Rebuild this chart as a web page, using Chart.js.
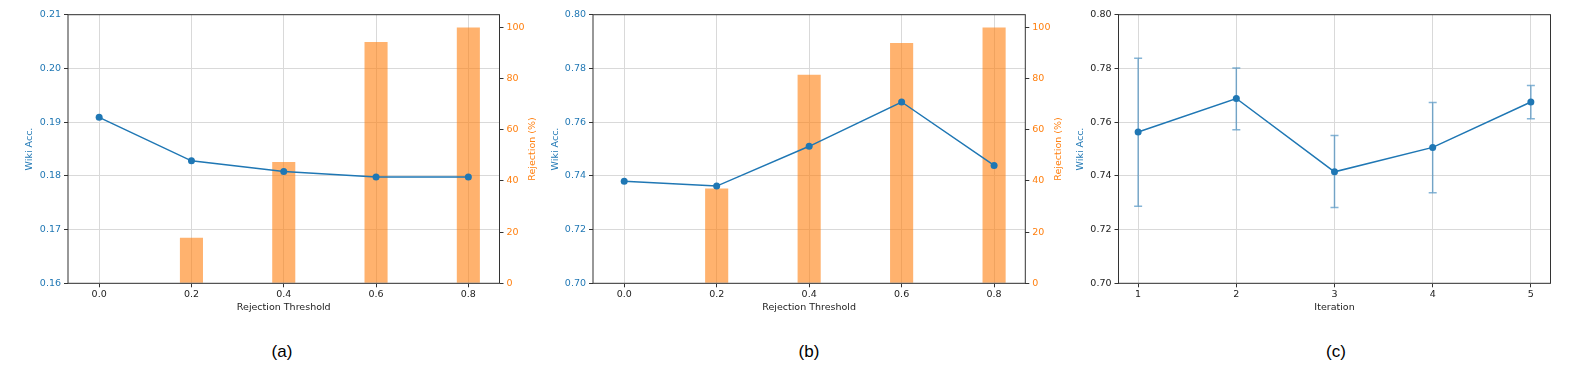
<!DOCTYPE html>
<html>
<head>
<meta charset="utf-8">
<script src="https://cdn.jsdelivr.net/npm/chart.js@4.4.0/dist/chart.umd.min.js"></script>
<style>
  html, body { margin: 0; padding: 0; background: #fff; }
  body { width: 1578px; height: 367px; position: relative; overflow: hidden; }
  .panel { position: absolute; top: 0; }
  .cap { position: absolute; top: 342px; width: 80px; margin-left: -40px; text-align: center;
         font: 17px 'Liberation Sans', Arial, sans-serif; line-height: 20px; color: #000; }
</style>
</head>
<body>
<canvas class="panel" id="chartA" width="545" height="320" style="left:0"></canvas>
<canvas class="panel" id="chartB" width="527" height="320" style="left:545px"></canvas>
<canvas class="panel" id="chartC" width="506" height="320" style="left:1072px"></canvas>
<div class="cap" id="capA" style="left:282px"></div>
<div class="cap" id="capB" style="left:809px"></div>
<div class="cap" id="capC" style="left:1336px"></div>
<script>
// data
const thresholds = [0.0, 0.2, 0.4, 0.6, 0.8];
const accA = [0.1909, 0.1828, 0.1808, 0.1798, 0.1798];
const rejA = [0, 17.8, 47.4, 94.3, 100];
const accB = [0.7380, 0.7362, 0.7510, 0.7675, 0.7439];
const rejB = [0, 37.1, 81.5, 93.9, 100];
const iterations = [1, 2, 3, 4, 5];
const accC = [0.7563, 0.7688, 0.7415, 0.7506, 0.7675];
const accCLow = [0.7287, 0.7572, 0.7282, 0.7337, 0.7613];
const accCHigh = [0.7838, 0.7802, 0.7550, 0.7673, 0.7736];
const captions = ['(a)', '(b)', '(c)'];

const BLUE = '#1f77b4';
const ORANGE = '#ff7f0e';
const BAR_FILL = 'rgba(255,127,14,0.6)';
const ERR_COLOR = 'rgba(31,119,180,0.55)';
const GRID = '#d9d9d9';
const SPINE = '#333';
const TEXT = '#222';
const FONT = "'DejaVu Sans', sans-serif";
const FS = 9.5;

Chart.defaults.font.family = FONT;
Chart.defaults.font.size = FS;
Chart.defaults.animation = false;
Chart.defaults.plugins.legend.display = false;
Chart.defaults.plugins.tooltip.enabled = false;

// matplotlib style box round the axes
const framePlugin = {
    id: 'frame',
    afterDraw(chart) {
        const { ctx, chartArea: a } = chart;
        ctx.save();
        ctx.strokeStyle = SPINE;
        ctx.lineWidth = 1;
        ctx.strokeRect(a.left, a.top, a.right - a.left, a.bottom - a.top);
        ctx.restore();
    }
};

// right y label reads bottom-to-top like matplotlib's
const rightTitlePlugin = {
    id: 'rightTitle',
    afterDraw(chart, args, opts) {
        if (!opts.text) return;
        const { ctx, chartArea: a } = chart;
        ctx.save();
        ctx.translate(a.right + opts.offset, (a.top + a.bottom) / 2);
        ctx.rotate(-Math.PI / 2);
        ctx.fillStyle = opts.color;
        ctx.font = FS + 'px ' + FONT;
        ctx.textAlign = 'center';
        ctx.textBaseline = 'middle';
        ctx.fillText(opts.text, 0, 0);
        ctx.restore();
    }
};

const errorBarPlugin = {
    id: 'errorBars',
    beforeDatasetsDraw(chart, args, opts) {
        if (!opts.low) return;
        const { ctx } = chart;
        const xs = chart.scales.x, ys = chart.scales.y;
        ctx.save();
        ctx.strokeStyle = ERR_COLOR;
        ctx.lineWidth = 1.5;
        opts.xs.forEach((xv, i) => {
            const x = xs.getPixelForValue(xv);
            const y1 = ys.getPixelForValue(opts.low[i]);
            const y2 = ys.getPixelForValue(opts.high[i]);
            ctx.beginPath();
            ctx.moveTo(x, y1); ctx.lineTo(x, y2);
            ctx.moveTo(x - 4, y1); ctx.lineTo(x + 4, y1);
            ctx.moveTo(x - 4, y2); ctx.lineTo(x + 4, y2);
            ctx.stroke();
        });
        ctx.restore();
    }
};

function xAxis(ticks, min, max, title, fmt) {
    return {
        type: 'linear', min, max, offset: false,
        afterBuildTicks: s => { s.ticks = ticks.map(v => ({ value: v })); },
        afterFit: s => { s.height = 36.7; },
        ticks: { color: TEXT, padding: 2, maxRotation: 0, callback: fmt },
        grid: { color: GRID, tickColor: SPINE, tickLength: 4, offset: false },
        border: { display: false },
        title: { display: true, text: title, color: TEXT, padding: { top: 0, bottom: 6.6 } }
    };
}

function accAxis(min, max, tickColor, titlePad, width) {
    return {
        position: 'left', min, max,
        afterFit: s => { s.width = width; },
        ticks: { stepSize: (max - min) / 5, includeBounds: false, color: tickColor, padding: 3,
                 callback: v => v.toFixed(2) },
        grid: { color: GRID, tickColor: SPINE, tickLength: 4 },
        border: { display: false },
        title: { display: true, text: 'Wiki Acc.', color: BLUE, padding: { top: titlePad, bottom: 0 } }
    };
}

function rejAxis(width) {
    return {
        position: 'right', min: 0, max: 105,
        afterFit: s => { s.width = width; },
        ticks: { stepSize: 20, includeBounds: false, color: ORANGE, padding: 3 },
        grid: { drawOnChartArea: false, tickColor: SPINE, tickLength: 4 },
        border: { display: false }
    };
}

function thresholdChart(id, acc, rej, yMin, yMax, leftW, rightW, titlePad) {
    return new Chart(document.getElementById(id), {
        type: 'line',
        data: {
            datasets: [
                { type: 'line', yAxisID: 'y',
                  data: thresholds.map((x, i) => ({ x, y: acc[i] })),
                  borderColor: BLUE, backgroundColor: BLUE, borderWidth: 1.5,
                  pointRadius: 3.5, pointBorderWidth: 0, tension: 0 },
                { type: 'bar', yAxisID: 'y2',
                  data: thresholds.map((x, i) => ({ x, y: rej[i] })),
                  backgroundColor: BAR_FILL, borderWidth: 0,
                  categoryPercentage: 1, barPercentage: 0.25 }
            ]
        },
        options: {
            responsive: false,
            layout: { padding: { top: 14.7, left: 0, right: 0, bottom: 0 } },
            scales: {
                x: xAxis(thresholds, -0.0675, 0.8675, 'Rejection Threshold', v => v.toFixed(1)),
                y: accAxis(yMin, yMax, BLUE, titlePad, leftW),
                y2: rejAxis(rightW)
            },
            plugins: { rightTitle: { text: 'Rejection (%)', color: ORANGE, offset: 33 } }
        },
        plugins: [framePlugin, rightTitlePlugin]
    });
}

thresholdChart('chartA', accA, rejA, 0.16, 0.21, 68, 45.5, 24.3);
thresholdChart('chartB', accB, rejB, 0.70, 0.80, 48, 46.7, 5.3);

new Chart(document.getElementById('chartC'), {
    type: 'line',
    data: {
        datasets: [{
            data: iterations.map((x, i) => ({ x, y: accC[i] })),
            borderColor: BLUE, backgroundColor: BLUE, borderWidth: 1.5,
            pointRadius: 3.5, pointBorderWidth: 0, tension: 0
        }]
    },
    options: {
        responsive: false,
        layout: { padding: { top: 14.7, left: 0, right: 27.5, bottom: 0 } },
        scales: {
            x: xAxis(iterations, 0.8, 5.2, 'Iteration', v => String(v)),
            y: accAxis(0.70, 0.80, TEXT, 3.3, 46.5)
        },
        plugins: { errorBars: { xs: iterations, low: accCLow, high: accCHigh } }
    },
    plugins: [framePlugin, errorBarPlugin]
});

document.getElementById('capA').textContent = captions[0];
document.getElementById('capB').textContent = captions[1];
document.getElementById('capC').textContent = captions[2];
</script>
</body>
</html>
